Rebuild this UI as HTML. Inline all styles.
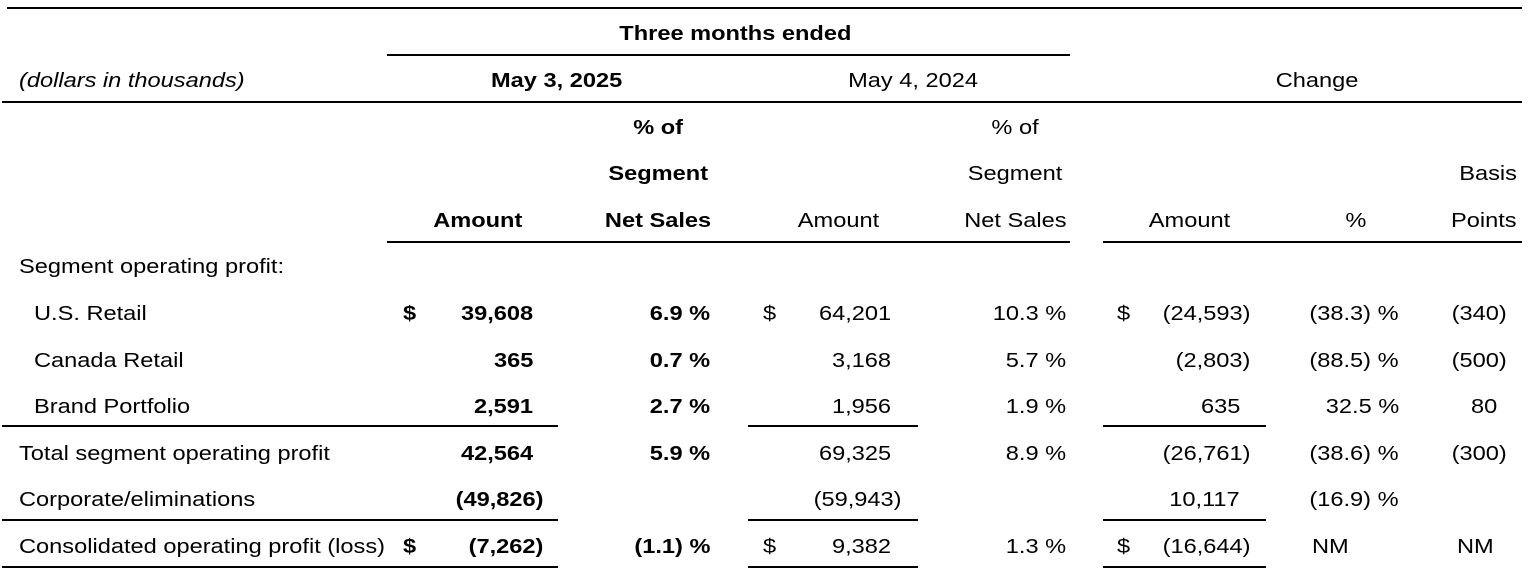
<!DOCTYPE html>
<html><head><meta charset="utf-8"><style>
html,body{margin:0;padding:0;background:#fff}
#t{position:relative;width:1536px;height:586px;font-family:"Liberation Sans",Arial,sans-serif;font-size:20px;color:#000;overflow:hidden}
.c{position:absolute;white-space:nowrap;line-height:24px}
.c span{display:inline-block;transform:scaleX(1.18)}
.b{font-weight:bold}
.i{font-style:italic}
.ln{position:absolute;height:1.5px;background:#000}
</style></head><body>
<div id="t"></div>
<script>
var t=document.getElementById('t');
function cell(txt,x,y,align,cls,name){
  var d=document.createElement('div');
  d.className='c '+(cls||'');
  var s=document.createElement('span');
  s.textContent=txt;
  d.appendChild(s);
  
  
  if(align==='r'){d.style.right=(1536-x)+'px';s.style.transformOrigin='right center';}
  else if(align==='c'){d.style.left=(x-300)+'px';d.style.width='600px';d.style.textAlign='center';s.style.transformOrigin='center center';}
  else{d.style.left=x+'px';s.style.transformOrigin='left center';}
  d.style.top=(y-12)+'px';
  t.appendChild(d);
}
function line(x1,x2,y){
  var d=document.createElement('div');
  d.className='ln';
  
  
  d.style.left=x1+'px';d.style.width=(x2-x1)+'px';d.style.top=y+'px';
  t.appendChild(d);
}
line(7,1522,7);
line(387,1070,54);
line(2,1522,101);
line(387,1070,241);line(1103,1522,241);
[425,519,566].forEach(function(y){line(2,558,y);line(748,918,y);line(1103,1266,y);});
cell('Three months ended',735,34,'c','b','header-three-months-ended');
cell('(dollars in thousands)',19,81,'l','i','units-note');
cell('May 3, 2025',557,81,'c','b','header-may-3-2025');
cell('May 4, 2024',913,81,'c','','header-may-4-2024');
cell('Change',1317,81,'c','','header-change');
cell('% of',658,128,'c','b','header-pct-of-2025');
cell('Segment',658,174,'c','b','header-segment-2025');
cell('Net Sales',658,221,'c','b','header-net-sales-2025');
cell('Amount',478,221,'c','b','header-amount-2025');
cell('% of',1015,128,'c','','header-pct-of-2024');
cell('Segment',1015,174,'c','','header-segment-2024');
cell('Net Sales',1015,221,'c','','header-net-sales-2024');
cell('Amount',838,221,'c','','header-amount-2024');
cell('Amount',1189,221,'c','','header-amount-change');
cell('%',1356,221,'c','','header-pct-change');
cell('Basis',1517,174,'r','','header-basis');
cell('Points',1517,221,'r','','header-points');
cell('Segment operating profit:',19,267,'l','','section-label');
var labels=['U.S. Retail','Canada Retail','Brand Portfolio','Total segment operating profit','Corporate/eliminations','Consolidated operating profit (loss)'];
var indent=[1,1,1,0,0,0];
var amt25=['39,608','365','2,591','42,564','(49,826)','(7,262)'];
var pct25=['6.9 %','0.7 %','2.7 %','5.9 %','','(1.1) %'];
var amt24=['64,201','3,168','1,956','69,325','(59,943)','9,382'];
var pct24=['10.3 %','5.7 %','1.9 %','8.9 %','','1.3 %'];
var chg=['(24,593)','(2,803)','635','(26,761)','10,117','(16,644)'];
var chgPct=['(38.3) %','(88.5) %','32.5 %','(38.6) %','(16.9) %','NM'];
var bps=['(340)','(500)','80','(300)','','NM'];
var dollar=[1,0,0,0,0,1];
function pr(s,base){return s.charAt(s.length-1)===')'?base+10:base;}
for(var i=0;i<labels.length;i++){
  var y=314+i*46.5;
  cell(labels[i],indent[i]?34:19,y,'l','','row-label');
  if(dollar[i]){
    cell('$',403,y,'l','b','dollar-sign');
    cell('$',763,y,'l','','dollar-sign');
    cell('$',1117,y,'l','','dollar-sign');
  }
  cell(amt25[i],pr(amt25[i],533),y,'r','b','amount-2025');
  if(pct25[i])cell(pct25[i],710,y,'r','b','pct-2025');
  cell(amt24[i],pr(amt24[i],891),y,'r','','amount-2024');
  if(pct24[i])cell(pct24[i],1066,y,'r','','pct-2024');
  cell(chg[i],pr(chg[i],1240),y,'r','','amount-change');
  if(chgPct[i]==='NM')cell('NM',1312,y,'l','','pct-change');
  else cell(chgPct[i],1399,y,'r','','pct-change');
  if(bps[i]==='NM')cell('NM',1457,y,'l','','basis-points-change');
  else if(bps[i])cell(bps[i],pr(bps[i],1497),y,'r','','basis-points-change');
}
</script>
</body></html>
